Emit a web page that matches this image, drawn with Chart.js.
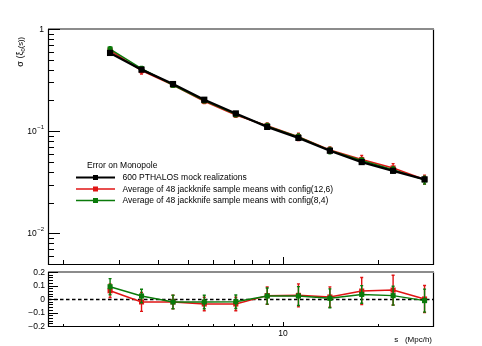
<!DOCTYPE html>
<html><head><meta charset="utf-8">
<script src="https://cdn.jsdelivr.net/npm/chart.js@4.4.0/dist/chart.umd.min.js"></script>
<style>
html,body{margin:0;padding:0;background:#fff;}
#wrap{position:relative;width:482px;height:346px;overflow:hidden;}
canvas{position:absolute;left:0;top:0;}
</style>
</head><body>
<div id="wrap"><canvas id="topc" width="482" height="346"></canvas><canvas id="botc" width="482" height="346"></canvas></div>
<script>
// ---------- data ----------
const sValues = [2.82, 3.55, 4.47, 5.62, 7.08, 8.91, 11.2, 14.1, 17.8, 22.4, 28.2];
const sigmaMock = [0.583, 0.400, 0.289, 0.203, 0.149, 0.110, 0.0858, 0.0643, 0.0498, 0.0409, 0.0337];
const sigmaJK126 = [0.619, 0.391, 0.283, 0.196, 0.144, 0.113, 0.0881, 0.0653, 0.0527, 0.0436, 0.0337];
const sigmaJK84 = [0.636, 0.409, 0.283, 0.199, 0.146, 0.112, 0.0877, 0.0646, 0.0515, 0.0419, 0.0333];
const errJK126 = [0.029, 0.028, 0.014, 0.010, 0.0075, 0.0072, 0.0073, 0.0048, 0.0050, 0.0045, 0.0034];
const errJK84 = [0.035, 0.020, 0.014, 0.010, 0.0075, 0.0066, 0.0060, 0.0045, 0.0032, 0.0029, 0.0029];
const ratioJK126 = [0.061, -0.022, -0.022, -0.037, -0.037, 0.025, 0.027, 0.015, 0.059, 0.066, 0.000];
const ratioJK84 = [0.091, 0.022, -0.022, -0.022, -0.020, 0.022, 0.022, 0.005, 0.034, 0.025, -0.012];
const ratioErrJK126 = [0.050, 0.070, 0.050, 0.050, 0.050, 0.065, 0.085, 0.075, 0.100, 0.110, 0.100];
const ratioErrJK84 = [0.060, 0.050, 0.050, 0.050, 0.050, 0.060, 0.070, 0.070, 0.065, 0.070, 0.085];

const topYTickValues = [1, 0.1, 0.01];
const topYTickLabels = [['1', ''], ['10', '\u22121'], ['10', '\u22122']];
const ratioYTickValues = [0.2, 0.1, 0, -0.1, -0.2];
const ratioYTickLabels = ['0.2', '0.1', '0', '\u22120.1', '\u22120.2'];
const xTickValues = [10];
const xTickLabels = ['10'];
const xMinorTickValues = [2, 3, 4, 5, 6, 7, 8, 9, 20, 30];
const legendTitle = 'Error on Monopole';
const legendLabels = ['600 PTHALOS mock realizations',
  'Average of 48 jackknife sample means with config(12,6)',
  'Average of 48 jackknife sample means with config(8,4)'];
const xTitle = 's   (Mpc/h)';

// ---------- style ----------
const RED = '#e01414';
const GREEN = '#0a7a0a';
const BLACK = '#000000';
const FONT = '"Liberation Sans", Arial, Helvetica, sans-serif';

function pts(ys) { return sValues.map((s, i) => ({x: s, y: ys[i]})); }

function zeroSizeAxes(scale) {
  if (scale.isHorizontal()) scale.height = 0; else scale.width = 0;
}
function axisBase(type, min, max) {
  return {type, min, max, display: true,
    ticks: {display: false}, grid: {display: false}, border: {display: false},
    afterFit: zeroSizeAxes};
}

const errorBarPlugin = {
  id: 'errbars',
  beforeDatasetDraw(chart, args) {
    const ds = chart.data.datasets[args.index];
    if (!ds.errors) return;
    const ctx = chart.ctx, xs = chart.scales.x, ys = chart.scales.y;
    const a = chart.chartArea;
    ctx.save();
    ctx.beginPath(); ctx.rect(a.left, a.top, a.right - a.left, a.bottom - a.top); ctx.clip();
    ctx.strokeStyle = ds.borderColor; ctx.lineWidth = 1.4;
    ds.data.forEach((p, i) => {
      const e = ds.errors[i];
      const x = xs.getPixelForValue(p.x);
      const y1 = ys.getPixelForValue(p.y + e), y2 = ys.getPixelForValue(p.y - e);
      ctx.beginPath(); ctx.moveTo(x, y1); ctx.lineTo(x, y2);
      ctx.moveTo(x - 1.5, y1); ctx.lineTo(x + 1.5, y1);
      ctx.moveTo(x - 1.5, y2); ctx.lineTo(x + 1.5, y2);
      ctx.stroke();
    });
    ctx.restore();
  }
};

function drawFrame(ctx, a) {
  ctx.save();
  ctx.strokeStyle = '#000'; ctx.lineWidth = 1.2;
  ctx.beginPath();
  ctx.moveTo(a.left + 0.5, a.top); ctx.lineTo(a.left + 0.5, a.bottom + 0.5);
  ctx.lineTo(a.right + 0.5, a.bottom + 0.5); ctx.lineTo(a.right + 0.5, a.top);
  ctx.stroke();
  ctx.strokeStyle = '#8c8c8c'; ctx.lineWidth = 2;
  ctx.beginPath(); ctx.moveTo(a.left, a.top); ctx.lineTo(a.right + 1, a.top); ctx.stroke();
  ctx.restore();
}
function drawXTicks(ctx, chart, majLen, minLen) {
  const xs = chart.scales.x, a = chart.chartArea;
  ctx.save(); ctx.strokeStyle = '#000'; ctx.lineWidth = 1;
  ctx.beginPath();
  xMinorTickValues.forEach(v => { const x = Math.round(xs.getPixelForValue(v)) + 0.5; if (v < xs.max) { ctx.moveTo(x, a.bottom); ctx.lineTo(x, a.bottom - minLen); } });
  xTickValues.forEach(v => { const x = Math.round(xs.getPixelForValue(v)) + 0.5; ctx.moveTo(x, a.bottom); ctx.lineTo(x, a.bottom - majLen); });
  ctx.stroke(); ctx.restore();
}

const topAxesPlugin = {
  id: 'topaxes',
  afterDraw(chart) {
    const ctx = chart.ctx, a = chart.chartArea, ys = chart.scales.y;
    drawFrame(ctx, a);
    drawXTicks(ctx, chart, 7, 4);
    // y ticks (log)
    ctx.save(); ctx.strokeStyle = '#000'; ctx.lineWidth = 1;
    ctx.beginPath();
    [0.001, 0.01, 0.1].forEach(d => {
      for (let k = 1; k <= 9; k++) {
        const v = k * d;
        if (v < ys.min * 0.999 || v > ys.max * 1.001) continue;
        const y = Math.round(ys.getPixelForValue(v)) + 0.5;
        ctx.moveTo(a.left, y); ctx.lineTo(a.left + (k === 1 ? 12 : 6), y);
      }
    });
    { const y = Math.round(ys.getPixelForValue(1)) + 0.5; ctx.moveTo(a.left, y); ctx.lineTo(a.left + 12, y); }
    ctx.stroke();
    // labels
    ctx.fillStyle = '#000'; ctx.textBaseline = 'middle';
    topYTickValues.forEach((v, i) => {
      const y = ys.getPixelForValue(v);
      const [base, exp] = topYTickLabels[i];
      let xr = a.left - 4;
      if (exp) {
        ctx.font = '6px ' + FONT; ctx.textAlign = 'right';
        ctx.fillText(exp, xr, y - 4);
        xr -= ctx.measureText(exp).width + 0.5;
      }
      ctx.font = '8.5px ' + FONT; ctx.textAlign = 'right';
      ctx.fillText(base, xr, y + 0.5);
    });
    // y title, rotated, ending near the top of the axis
    ctx.save();
    ctx.translate(21, 37);
    ctx.rotate(-Math.PI / 2);
    ctx.textBaseline = 'middle'; ctx.textAlign = 'left';
    const parts = [['\u03c3 (\u03be', 9, 0], ['0', 6, 2.5], ['(s))', 7.5, 0]];
    let total = 0;
    parts.forEach(p => { ctx.font = p[1] + 'px ' + FONT; total += ctx.measureText(p[0]).width; });
    let x = -total;
    parts.forEach(p => { ctx.font = p[1] + 'px ' + FONT; ctx.fillText(p[0], x, p[2]); x += ctx.measureText(p[0]).width; });
    ctx.restore();
    // legend
    ctx.font = '8.5px ' + FONT; ctx.textAlign = 'left'; ctx.textBaseline = 'middle';
    ctx.fillStyle = '#000';
    ctx.fillText(legendTitle, 87, 166);
    const colors = [BLACK, RED, GREEN];
    const lws = [1.8, 1.5, 1.5];
    [177.5, 189, 200.5].forEach((y, i) => {
      ctx.strokeStyle = colors[i]; ctx.lineWidth = lws[i];
      ctx.beginPath(); ctx.moveTo(76, y); ctx.lineTo(115, y); ctx.stroke();
      ctx.fillStyle = colors[i]; ctx.fillRect(93, y - 2.5, 5, 5);
      ctx.fillStyle = '#000';
      ctx.fillText(legendLabels[i], 122.5, y + 0.5);
    });
    ctx.restore();
  }
};

const botAxesPlugin = {
  id: 'botaxes',
  beforeDatasetsDraw(chart) {
    const ctx = chart.ctx, a = chart.chartArea, ys = chart.scales.y;
    const y = Math.round(ys.getPixelForValue(0)) + 0.5;
    ctx.save(); ctx.strokeStyle = '#000'; ctx.lineWidth = 1.4; ctx.setLineDash([3.5, 2.5]);
    ctx.beginPath(); ctx.moveTo(a.left, y); ctx.lineTo(a.right, y); ctx.stroke(); ctx.restore();
  },
  afterDraw(chart) {
    const ctx = chart.ctx, a = chart.chartArea, ys = chart.scales.y, xs = chart.scales.x;
    drawFrame(ctx, a);
    drawXTicks(ctx, chart, 4, 2);
    ctx.save(); ctx.strokeStyle = '#000'; ctx.lineWidth = 1;
    ctx.beginPath();
    for (let k = -10; k <= 10; k++) {
      const v = k * 0.02;
      const y = Math.round(ys.getPixelForValue(v)) + 0.5;
      const major = (k % 5 === 0);
      ctx.moveTo(a.left, y); ctx.lineTo(a.left + (major ? 10 : 5), y);
    }
    ctx.stroke();
    ctx.fillStyle = '#000'; ctx.font = '8.5px ' + FONT; ctx.textBaseline = 'middle'; ctx.textAlign = 'right';
    ratioYTickValues.forEach((v, i) => ctx.fillText(ratioYTickLabels[i], a.left - 3, ys.getPixelForValue(v) + 0.5));
    ctx.textAlign = 'center';
    xTickValues.forEach((v, i) => ctx.fillText(xTickLabels[i], xs.getPixelForValue(v), a.bottom + 7.5));
    ctx.textAlign = 'right'; ctx.font = '8px ' + FONT;
    ctx.fillText(xTitle, a.right - 1, a.bottom + 13.5);
    ctx.restore();
  }
};

const common = {
  responsive: false, animation: false, devicePixelRatio: 1,
  plugins: {legend: {display: false}, tooltip: {enabled: false}},
  events: []
};

// order: lower value is drawn later (on top)
new Chart(document.getElementById('topc'), {
  type: 'line',
  data: {datasets: [
    {data: pts(sigmaJK126), errors: errJK126, order: 2, borderColor: RED, backgroundColor: RED, borderWidth: 1.5,
     pointStyle: 'rect', pointRadius: 3.6, pointBorderWidth: 0, tension: 0},
    {data: pts(sigmaJK84), errors: errJK84, order: 1, borderColor: GREEN, backgroundColor: GREEN, borderWidth: 1.5,
     pointStyle: 'rect', pointRadius: 3.6, pointBorderWidth: 0, tension: 0},
    {data: pts(sigmaMock), order: 0, borderColor: BLACK, backgroundColor: BLACK, borderWidth: 2.3,
     pointStyle: 'rect', pointRadius: 4.4, pointBorderWidth: 0, tension: 0}
  ]},
  options: Object.assign({}, common, {
    layout: {padding: {left: 48, right: 49, top: 29, bottom: 82}},
    scales: {x: axisBase('logarithmic', 1.79, 30), y: axisBase('logarithmic', 0.005, 1)}
  }),
  plugins: [errorBarPlugin, topAxesPlugin]
});

new Chart(document.getElementById('botc'), {
  type: 'line',
  data: {datasets: [
    {data: pts(ratioJK126), errors: ratioErrJK126, order: 1, borderColor: RED, backgroundColor: RED, borderWidth: 1.5,
     pointStyle: 'rect', pointRadius: 3.6, pointBorderWidth: 0, tension: 0},
    {data: pts(ratioJK84), errors: ratioErrJK84, order: 0, borderColor: GREEN, backgroundColor: GREEN, borderWidth: 1.5,
     pointStyle: 'rect', pointRadius: 3.6, pointBorderWidth: 0, tension: 0}
  ]},
  options: Object.assign({}, common, {
    layout: {padding: {left: 48, right: 49, top: 272, bottom: 20}},
    scales: {x: axisBase('logarithmic', 1.79, 30), y: axisBase('linear', -0.2, 0.2)}
  }),
  plugins: [errorBarPlugin, botAxesPlugin]
});
</script>
</body></html>
